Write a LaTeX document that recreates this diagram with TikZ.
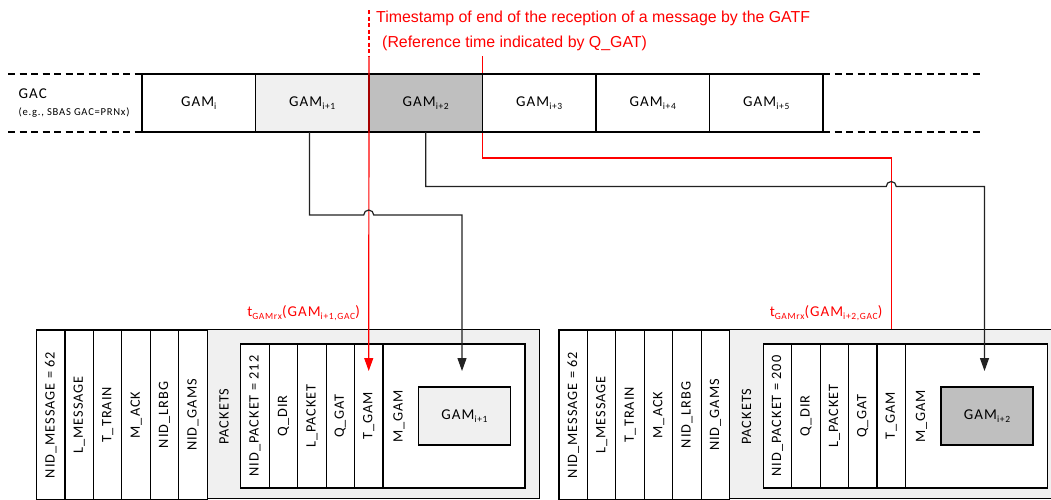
\documentclass[tikz,border=0pt]{standalone}
\usepackage{fontspec}
\usepackage{graphicx}
\setmainfont[LetterSpace=7]{Carlito}
\newfontfamily\notefont{Liberation Sans}
\usetikzlibrary{arrows.meta,calc}

\definecolor{lightfill}{HTML}{F0F0F0}
\definecolor{midfill}{HTML}{BFBFBF}
\definecolor{linkred}{HTML}{FF0000}
\definecolor{linkdark}{HTML}{222222}

% small lowered index as used in the field names
\newcommand\gsub[1]{\raisebox{-0.35ex}{\fontsize{9.5}{10}\selectfont #1}}

\tikzset{
  frame/.style={draw=black, line width=1.1pt, inner sep=0pt, outer sep=0pt},
  gamslot/.style={frame, minimum width=113.5pt, minimum height=58pt,
    font=\fontsize{15}{16}\selectfont},
  fieldcol/.style={frame, fill=white, minimum width=28.45pt,
    font=\fontsize{14.3}{15}\selectfont},
  plainlabel/.style={inner sep=0pt, font=\fontsize{14.3}{15}\selectfont},
  bandedge/.style={draw=black, line width=1.1pt, dash pattern=on 7pt off 4.5pt},
  redlink/.style={draw=linkred, line width=1.2pt},
  darklink/.style={draw=linkdark, line width=1.2pt},
  tipend/.style={-{Triangle[length=13pt,width=9pt]}},
  rednote/.style={inner sep=0pt, text=linkred, font=\notefont\fontsize{15.9}{17}\selectfont},
  redtag/.style={inner sep=0pt, text=linkred, font=\fontsize{15}{16}\selectfont},
}

% one received message: header fields, packet with its fields and the embedded GAM
% #1 name prefix, #2 NID_PACKET value, #3 GAM index, #4 GAM fill, #5 time tag index
\newcommand\gamframe[5]{%
  \node[frame, fill=lightfill, anchor=north west, minimum width=503pt,
        minimum height=169pt] (#1msg) at (36.5,329.5) {};
  \foreach \k/\txt in {0/{NID\_MESSAGE = 62},1/{L\_MESSAGE},2/{T\_TRAIN},
                       3/{M\_ACK},4/{NID\_LRBG},5/{NID\_GAMS}}
    \node[fieldcol, minimum height=169pt] (#1f\k) at ({36.5+28.45*(\k+0.5)},415)
      {\rotatebox{90}{\txt}};
  \node[plainlabel] (#1pk) at (224,416.5) {\rotatebox{90}{PACKETS}};
  \node[frame, fill=white, anchor=north west, minimum width=284.3pt,
        minimum height=144pt] (#1pkt) at (240.7,344) {};
  \foreach \k/\txt in {0/{NID\_PACKET = #2},1/{Q\_DIR},2/{L\_PACKET},
                       3/{Q\_GAT},4/{T\_GAM}}
    \node[fieldcol, minimum height=144pt] (#1p\k) at ({240.7+28.45*(\k+0.5)},416)
      {\rotatebox{90}{\txt}};
  \node[plainlabel] (#1mgam) at (399,416.5) {\rotatebox{90}{M\_GAM}};
  \node[frame, fill=#4, minimum width=92pt, minimum height=58pt,
        font=\fontsize{15}{16}\selectfont] (#1gam) at (464.5,416) {GAM\gsub{#3}};
  \node[redtag, anchor=base east] (#1tag) at (360,316.5)
    {t\gsub{GAMrx}(GAM\gsub{#5,GAC})};
}

\begin{document}
\begin{tikzpicture}[x=1pt,y=-1pt]
  \useasboundingbox (0,0) rectangle (1051,499);
  \clip (0,0) rectangle (1051,499);
  \fill[white] (0,0) rectangle (1051,499);

  % reception time reference of GAM i+2: runs behind the GAC band
  \coordinate (r2top) at (482.5,56);
  \draw[redlink, tipend] (r2top) -- (482.5,158) coordinate (r2turn)
    -- (891.2,158) -- (891.2,371) coordinate (r2tip);

  % GAC stream of GAMs
  \node[gamslot, fill=white]     (g0) at (198.75,103) {GAM\gsub{i}};
  \node[gamslot, fill=lightfill] (g1) at (312.25,103) {GAM\gsub{i+1}};
  \node[gamslot, fill=midfill]   (g2) at (425.75,103) {GAM\gsub{i+2}};
  \node[gamslot, fill=white]     (g3) at (539.25,103) {GAM\gsub{i+3}};
  \node[gamslot, fill=white]     (g4) at (652.75,103) {GAM\gsub{i+4}};
  \node[gamslot, fill=white]     (g5) at (766.25,103) {GAM\gsub{i+5}};

  \coordinate (dl1) at (8,74);  \coordinate (dl2) at (8,132);
  \coordinate (dr1) at (980,74); \coordinate (dr2) at (980,132);
  \draw[bandedge] (dl1) -- (g0.north west);
  \draw[bandedge] (dl2) -- (g0.south west);
  \draw[bandedge] (g5.north east) -- (dr1);
  \draw[bandedge] (g5.south east) -- (dr2);

  \node[anchor=base west, inner sep=0pt, font=\fontsize{15}{16}\selectfont]
    (gac) at (18.5,98.7) {GAC};
  \node[anchor=base west, inner sep=0pt, font=\fontsize{10.6}{12}\selectfont]
    (gacex) at (18.5,115.5) {(e.g., SBAS GAC=PRNx)};

  \node[rednote, anchor=base west] (note1) at (376,22)
    {Timestamp of end of the reception of a message by the GATF};
  \node[rednote, anchor=base west] (note2) at (382,47)
    {(Reference time indicated by Q\_GAT)};

  % the two received messages
  \gamframe{a}{212}{i+1}{lightfill}{i+1}
  \begin{scope}[xshift=522.5pt]
    \gamframe{b}{200}{i+2}{midfill}{i+2}
  \end{scope}

  % reception time reference of GAM i+1: crosses over the band
  \coordinate (r1top) at (369,10);
  \coordinate (r1mid) at (369,56);
  \draw[redlink, dash pattern=on 4pt off 2.5pt] (r1top) -- (r1mid);
  \draw[redlink, tipend] (r1mid) -- ([yshift=-27pt]ap4.north);

  % GAM i+1 carried into the first message
  \coordinate (s1) at ($(g1.south)+(-2.75,0)$);
  \coordinate (e1) at ([xshift=-2.5pt,yshift=16pt]agam.north);
  \draw[darklink, tipend] (s1) -- (s1 |- 0,215)
    -- ($(ap4.center |- 0,215)+(-5,0)$) arc[start angle=180, end angle=360, radius=5]
    -- (e1 |- 0,215) -- (e1);

  % GAM i+2 carried into the second message
  \coordinate (s2) at (g2.south);
  \coordinate (e2) at ([xshift=-2.5pt,yshift=16pt]bgam.north);
  \draw[darklink, tipend] (s2) -- (s2 |- 0,186.5)
    -- ($(bp4.center |- 0,186.5)+(-5,0)$) arc[start angle=180, end angle=360, radius=5]
    -- (e2 |- 0,186.5) -- (e2);
\end{tikzpicture}
\end{document}
